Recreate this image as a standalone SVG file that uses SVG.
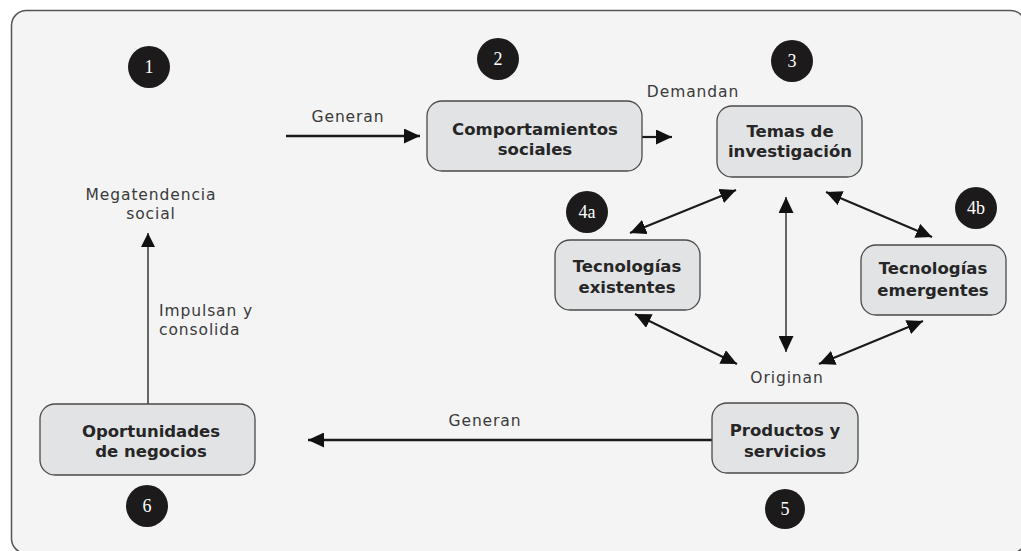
<svg xmlns="http://www.w3.org/2000/svg" width="1021" height="551" viewBox="0 0 1021 551">
<style>
.frame{fill:#f4f4f4;stroke:#555;stroke-width:1.5}
.box{fill:#e2e3e4;stroke:#4a4a4a;stroke-width:1.3}
.bl{font-family:"DejaVu Sans","Liberation Sans",sans-serif;font-weight:bold;font-size:16.5px;fill:#262626;text-anchor:middle}
.lb{font-family:"DejaVu Sans","Liberation Sans",sans-serif;font-size:15.5px;fill:#3a3a3a;letter-spacing:0.9px}
.num{fill:#1c1a1a}
.nt{font-family:"Liberation Serif","DejaVu Serif",serif;font-size:18px;fill:#fff;text-anchor:middle}
.c{fill:none;stroke:#1a1a1a}
</style>
<defs>
<marker id="ah" markerUnits="userSpaceOnUse" markerWidth="16" markerHeight="15" refX="16" refY="7.5" orient="auto-start-reverse">
<path d="M0,0 L16,7.5 L0,15 z" fill="#111"/>
</marker>
<marker id="ahs" markerUnits="userSpaceOnUse" markerWidth="14" markerHeight="14" refX="14" refY="7" orient="auto-start-reverse">
<path d="M0,0 L14,7 L0,14 z" fill="#111"/>
</marker>
</defs>
<rect class="frame" x="11.5" y="10.5" width="1014" height="543" rx="15"/>

<g id="connectors">
<line class="c" x1="286" y1="136" x2="420" y2="136" stroke-width="2.5" marker-end="url(#ah)"/>
<line class="c" x1="642" y1="137" x2="672" y2="137" stroke-width="2.2" marker-end="url(#ah)"/>
<line class="c" x1="630" y1="233" x2="736" y2="190" stroke-width="2" marker-start="url(#ah)" marker-end="url(#ah)"/>
<line class="c" x1="786" y1="197" x2="786" y2="352" stroke-width="1.3" marker-start="url(#ah)" marker-end="url(#ah)"/>
<line class="c" x1="826" y1="192" x2="932" y2="237" stroke-width="2" marker-start="url(#ah)" marker-end="url(#ah)"/>
<line class="c" x1="635" y1="314" x2="737" y2="364" stroke-width="2" marker-start="url(#ah)" marker-end="url(#ah)"/>
<line class="c" x1="923" y1="321" x2="819" y2="364" stroke-width="2" marker-start="url(#ah)" marker-end="url(#ah)"/>
<line class="c" x1="713" y1="440" x2="308" y2="440" stroke-width="2.5" marker-end="url(#ah)"/>
<line class="c" x1="148" y1="404" x2="148" y2="233" stroke-width="1.3" stroke="#333" marker-end="url(#ahs)"/>
<text class="lb" x="348" y="122" text-anchor="middle">Generan</text>
<text class="lb" x="693" y="97" text-anchor="middle">Demandan</text>
<text class="lb" x="787" y="383" text-anchor="middle">Originan</text>
<text class="lb" x="485" y="426" text-anchor="middle">Generan</text>
<text class="lb" x="159" y="316">Impulsan y</text>
<text class="lb" x="159" y="335">consolida</text>
</g>

<g id="n1">
<circle class="num" cx="149" cy="67" r="21"/>
<text class="nt" x="149" y="73">1</text>
<text class="lb" x="151" y="200" text-anchor="middle">Megatendencia</text>
<text class="lb" x="151" y="219" text-anchor="middle">social</text>
</g>

<g id="n2">
<circle class="num" cx="498" cy="59" r="21"/>
<text class="nt" x="498" y="65">2</text>
<rect class="box" x="427" y="101" width="215" height="70" rx="15"/>
<text class="bl" x="535" y="135">Comportamientos</text>
<text class="bl" x="535" y="155">sociales</text>
</g>

<g id="n3">
<circle class="num" cx="792" cy="61" r="21"/>
<text class="nt" x="792" y="67">3</text>
<rect class="box" x="717" y="106" width="145" height="71" rx="15"/>
<text class="bl" x="790" y="137">Temas de</text>
<text class="bl" x="790" y="157">investigación</text>
</g>

<g id="n4a">
<circle class="num" cx="587" cy="212" r="21"/>
<text class="nt" x="587" y="218">4a</text>
<rect class="box" x="555" y="240" width="145" height="70" rx="15"/>
<text class="bl" x="627" y="272">Tecnologías</text>
<text class="bl" x="627" y="293">existentes</text>
</g>

<g id="n4b">
<circle class="num" cx="976" cy="208" r="21"/>
<text class="nt" x="976" y="214">4b</text>
<rect class="box" x="861" y="245" width="145" height="70" rx="15"/>
<text class="bl" x="933" y="274">Tecnologías</text>
<text class="bl" x="933" y="296">emergentes</text>
</g>

<g id="n5">
<circle class="num" cx="785" cy="509" r="20"/>
<text class="nt" x="785" y="515">5</text>
<rect class="box" x="712" y="403" width="146" height="70" rx="15"/>
<text class="bl" x="785" y="436">Productos y</text>
<text class="bl" x="785" y="457">servicios</text>
</g>

<g id="n6">
<circle class="num" cx="147" cy="506" r="21"/>
<text class="nt" x="147" y="512">6</text>
<rect class="box" x="40" y="404" width="215" height="71" rx="15"/>
<text class="bl" x="151" y="437">Oportunidades</text>
<text class="bl" x="151" y="457">de negocios</text>
</g>
</svg>
